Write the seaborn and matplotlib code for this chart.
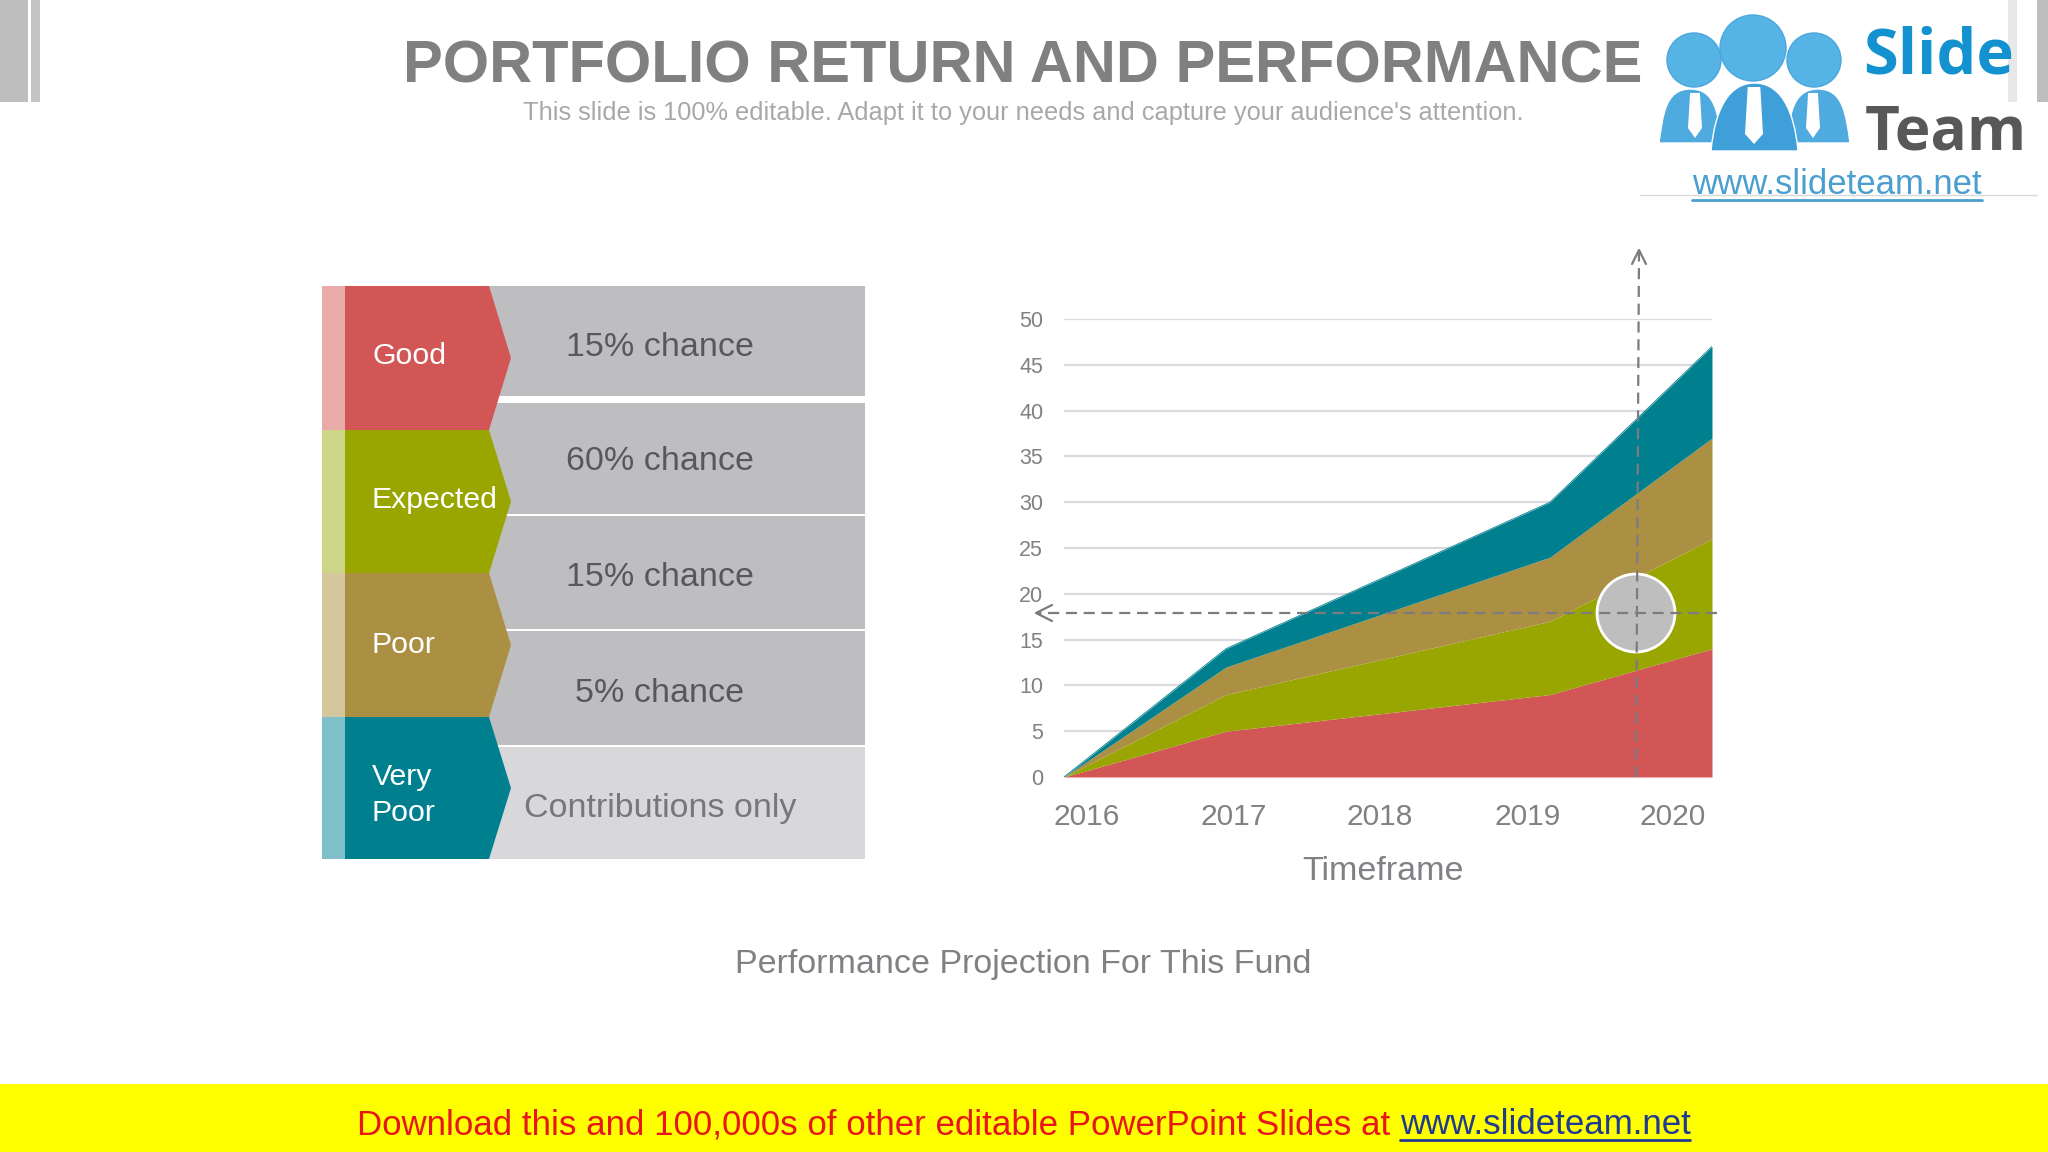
import numpy as np
import pandas as pd
import matplotlib
matplotlib.use("Agg")
import matplotlib.pyplot as plt
from matplotlib.patches import Circle, PathPatch, Polygon, Rectangle
from matplotlib.path import Path
import seaborn as sns

# chart values (stack layers, bottom to top)
years = ["2016", "2017", "2018", "2019", "2020"]
good = [0, 5, 7, 9, 14]
expected = [0, 4, 6, 8, 12]
poor = [0, 3, 5, 7, 11]
very_poor = [0, 2, 4, 6, 10]
y_ticks = [0, 5, 10, 15, 20, 25, 30, 35, 40, 45, 50]

# left panel
outcomes = ["Good", "Expected", "Poor", "Very\nPoor"]
chances = ["15% chance", "60% chance", "15% chance", "5% chance", "Contributions only"]

RED, GREEN, BROWN, TEAL = "#D25656", "#99A500", "#AB8F43", "#00808F"
STRIPS = ["#E8ABA9", "#CDD588", "#D4C79E", "#7FBFC9"]
TEXT_GREY = "#808085"
DASH = "#7C7C80"

sns.set_theme(style="white")
plt.rcParams["font.family"] = ["Liberation Sans", "DejaVu Sans"]

W, H = 2048, 1152
fig = plt.figure(figsize=(W / 100, H / 100), dpi=100, facecolor="white")


def pixel_axes(zorder):
    # full figure axes measured in pixels, y going down
    a = fig.add_axes([0, 0, 1, 1], zorder=zorder)
    a.set_xlim(0, W)
    a.set_ylim(H, 0)
    a.axis("off")
    a.patch.set_alpha(0)
    return a


bg = pixel_axes(0)

# corner bars
for x0, x1, col in [(0, 28, "#BEBEBE"), (31, 40, "#C4C4C4"), (2008, 2017, "#E8E8E8"), (2037, 2048, "#BEBEBE")]:
    bg.add_patch(Rectangle((x0, 0), x1 - x0, 102, color=col, lw=0))

bg.text(1023, 67, "PORTFOLIO RETURN AND PERFORMANCE", ha="center", va="center",
        fontsize=42.9, fontweight="bold", color="#808080")
bg.text(1023, 113, "This slide is 100% editable. Adapt it to your needs and capture your audience's attention.",
        ha="center", va="center", fontsize=18.3, color="#A8A8A8")
bg.text(1023, 965, "Performance Projection For This Fund", ha="center", va="center",
        fontsize=24.5, color=TEXT_GREY)

# left panel: grey rows then chevrons
row_edges = [(286, 396), (403, 514), (516, 629), (631, 745), (747, 859)]
row_text_y = [348, 462, 578, 693, 808]
for i, ((top, bot), label) in enumerate(zip(row_edges, chances)):
    last = i == len(chances) - 1
    bg.add_patch(Rectangle((489, top), 376, bot - top, color="#D8D8DA" if last else "#BEBEC0", lw=0))
    bg.text(660, row_text_y[i], label, ha="center", va="center", fontsize=24.5,
            color="#77777A" if last else "#58585A")

chevron_edges = [286, 430, 573, 717, 859]
label_y = [356, 500, 645, 795]
for i, (label, col) in enumerate(zip(outcomes, [RED, GREEN, BROWN, TEAL])):
    top, bot = chevron_edges[i], chevron_edges[i + 1]
    bg.add_patch(Rectangle((322, top), 23, bot - top, color=STRIPS[i], lw=0))
    bg.add_patch(Polygon([(345, top), (489, top), (511, (top + bot) / 2), (489, bot), (345, bot)],
                         closed=True, color=col, lw=0))
    bg.text(372, label_y[i], label, ha="left", va="center", fontsize=21.8, color="white", linespacing=1.35)

# logo
bg.add_patch(Rectangle((1637, 0), 370, 195, color="white", lw=0))
bg.add_patch(Rectangle((1637, 102), 400, 93, color="white", lw=0))
bg.plot([1640, 2037], [195, 195], color="#D8D8D8", lw=1)


def dome(x0, x1, top, bot, col, z):
    mid = (x0 + x1) / 2
    verts = [(x0, bot), (x0 + 4, top + 25), (mid - 25, top), (mid, top),
             (mid + 25, top), (x1 - 4, top + 25), (x1, bot), (x0, bot)]
    codes = [Path.MOVETO, Path.CURVE4, Path.CURVE4, Path.CURVE4,
             Path.CURVE4, Path.CURVE4, Path.CURVE4, Path.CLOSEPOLY]
    bg.add_patch(PathPatch(Path(verts, codes), facecolor=col, edgecolor="white", lw=1, zorder=z))


for cx, cy, r in [(1694, 60, 27), (1814, 60, 27), (1753, 48, 33)]:
    bg.add_patch(Circle((cx, cy), r, facecolor="#55B3E6", edgecolor="#4BA6DC", lw=1, zorder=3))
dome(1659, 1722, 89, 143, "#4FABDF", 3)
dome(1786, 1850, 89, 143, "#4FABDF", 3)
dome(1711, 1798, 83, 151, "#3F9FD8", 4)
for cx, top, bot, hw in [(1695, 93, 138, 7), (1754, 87, 144, 9), (1813, 93, 138, 7)]:
    bg.add_patch(Polygon([(cx - hw * 0.7, top), (cx + hw * 0.7, top), (cx + hw, bot - 10), (cx, bot),
                          (cx - hw, bot - 10)], closed=True, color="white", lw=0, zorder=5))
bg.text(1863, 73, "Slide", ha="left", va="baseline", fontsize=45.5, fontweight="bold", family="Open Sans",
        color="#1492D0", zorder=6)
bg.text(1865, 150, "Team", ha="left", va="baseline", fontsize=43.5, fontweight="bold", family="Open Sans",
        color="#58585A", zorder=6)
bg.text(1837, 185, "www.slideteam.net", ha="center", va="center", fontsize=25, color="#4A9FD0", zorder=6)
bg.plot([1692, 1982], [200, 200], color="#4A9FD0", lw=2, zorder=6)

# yellow footer
bg.add_patch(Rectangle((0, 1084), W, 68, color="#FFFF00", lw=0))
bg.text(1400, 1125, "Download this and 100,000s of other editable PowerPoint Slides at ", ha="right", va="center",
        fontsize=25.1, color="#E8161A")
bg.text(1400, 1125, "www.slideteam.net", ha="left", va="center", fontsize=25.1, color="#1F3A93")
bg.plot([1400, 1690], [1140, 1140], color="#1F3A93", lw=2)

# area chart, axes placed on the slide
left, right, y0, y50 = 1064, 1712, 777, 319
ax = fig.add_axes([left / W, 1 - y0 / H, (right - left) / W, (y0 - y50) / H], zorder=1)
ax.patch.set_alpha(0)
df = pd.DataFrame({"Good": good, "Expected": expected, "Poor": poor, "Very Poor": very_poor})
df["x"] = np.arange(len(years))
ax.yaxis.grid(True, color="#D9D9DE", lw=1.6)
ax.set_axisbelow(True)
ax.stackplot(df["x"], df["Good"], df["Expected"], df["Poor"], df["Very Poor"],
             colors=[RED, GREEN, BROWN, TEAL], lw=0)
sns.lineplot(data=df, x="x", y=df["Good"] + df["Expected"] + df["Poor"] + df["Very Poor"],
             color=TEAL, lw=0.6, ax=ax)
ax.set_xlim(0, 4)
ax.set_ylim(0, 50)
ax.set_yticks(y_ticks)
ax.set_xticks([0.14, 1.05, 1.95, 2.86, 3.76])
ax.set_xticklabels(years)
ax.tick_params(axis="y", length=0, pad=15, labelsize=15.5, labelcolor=TEXT_GREY)
ax.tick_params(axis="x", length=0, pad=19, labelsize=21.5, labelcolor=TEXT_GREY)
ax.set_xlabel("")
ax.set_ylabel("")
sns.despine(ax=ax, left=True, bottom=True)

# overlay: circle, dashed crosshair, axis title
top = pixel_axes(2)
top.add_patch(Circle((1636, 613), 39, facecolor="#BEBEBE", edgecolor="white", lw=2))
top.plot([1717, 1038], [613, 613], color=DASH, lw=1.6, ls=(0, (5, 3)))
top.plot([1636, 1639], [777, 250], color=DASH, lw=1.6, ls=(0, (5, 3)))
top.plot([1052, 1036, 1052], [605, 613, 621], color=DASH, lw=1.6)
top.plot([1632, 1639, 1646], [264, 250, 264], color=DASH, lw=1.6)
top.text(1383, 872, "Timeframe", ha="center", va="center", fontsize=24.5, color=TEXT_GREY)

fig.savefig("out.png", dpi=100)
